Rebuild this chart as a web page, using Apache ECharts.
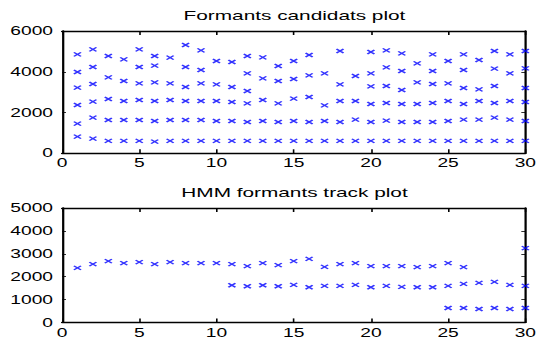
<!DOCTYPE html>
<html>
<head>
<meta charset="utf-8">
<script src="https://cdn.jsdelivr.net/npm/echarts@6/dist/echarts.min.js"></script>
<style>
	html, body { margin: 0; padding: 0; background: #fff; }
	/* the reference figure is stretched horizontally, so the chart is drawn narrow and widened */
	#chart {
		width: 337.5px;
		height: 342px;
		transform: scaleX(1.6);
		transform-origin: 0 0;
	}
</style>
</head>
<body>
<div id="chart"></div>
<script>
// frame index for both plots
const frames = Array.from({ length: 30 }, (_, i) => i + 1)

// formant candidates (Hz) for each frame, top plot
const candidates = [
	[4856, 3989, 3221, 2371, 1455, 818],
	[5101, 4235, 3401, 2534, 1749, 719],
	[4774, 3728, 2665, 1635, 605],
	[4611, 3548, 2567, 1635, 605],
	[5101, 4235, 3434, 2616, 1635, 605],
	[4774, 4300, 3483, 2567, 1586, 572],
	[4692, 3434, 2616, 1635, 605],
	[5314, 4235, 3254, 2567, 1635, 605],
	[5052, 4088, 3434, 2567, 1635, 605],
	[4529, 3384, 2567, 1586, 605],
	[4480, 3254, 2518, 1586, 605],
	[4774, 3924, 3057, 2452, 1537, 605],
	[4709, 3679, 2616, 1586, 605],
	[4284, 3548, 2452, 1537, 605],
	[4529, 3646, 2681, 1586, 605],
	[4823, 3826, 2763, 1537, 605],
	[3924, 2354, 1586, 605],
	[5019, 3384, 2567, 1537, 605],
	[3793, 2567, 1651, 605],
	[4970, 3924, 3286, 2420, 1537, 605],
	[5052, 4218, 3303, 2469, 1602, 605],
	[4905, 4038, 3106, 2420, 1537, 605],
	[4415, 3483, 2420, 1537, 605],
	[4856, 4038, 3401, 2469, 1537, 605],
	[4529, 3434, 2567, 1586, 605],
	[4856, 4088, 3205, 2420, 1651, 605],
	[4578, 3139, 2567, 1651, 605],
	[5019, 4153, 3303, 2469, 1749, 605],
	[4856, 3924, 2567, 1651, 605],
	[5019, 4170, 3205, 2518, 1586, 605]
]

// HMM tracks (Hz), bottom plot; null = no point in that frame
const trackHigh = [2383, 2544, 2675, 2588, 2632, 2544, 2632, 2588, 2588, 2588,
	2544, 2456, 2588, 2500, 2675, 2778, 2427, 2544, 2588, 2456,
	2456, 2456, 2412, 2456, 2588, 2412, null, null, null, 3246]
const trackMid = [null, null, null, null, null, null, null, null, null, null,
	1623, 1579, 1623, 1579, 1637, 1535, 1594, 1594, 1637, 1535,
	1594, 1550, 1535, 1535, 1594, 1681, 1725, 1769, 1637, 1594]
const trackLow = [null, null, null, null, null, null, null, null, null, null,
	null, null, null, null, null, null, null, null, null, null,
	null, null, null, null, 629, 629, 585, 629, 585, 629]

// axis ranges and ticks
const xTicks = [0, 5, 10, 15, 20, 25, 30]
const topYTicks = [0, 2000, 4000, 6000]
const bottomYTicks = [0, 1000, 2000, 3000, 4000, 5000]

const titles = ['Formants candidats plot', 'HMM formants track plot']

const SX = 1.6
const FONT = "'Liberation Sans', Arial, Helvetica, sans-serif"
const BLUE = '#0000ff'

const candidatePoints = []
candidates.forEach((vals, i) => {
	vals.forEach(v => candidatePoints.push([frames[i], v]))
})

const toPoints = arr => arr
	.map((v, i) => (v === null ? null : [frames[i], v]))
	.filter(p => p !== null)

const chart = echarts.init(document.getElementById('chart'), null, { renderer: 'svg' })

const lineStyle = { color: '#000', width: 1.4 }

const makeX = (gridIndex, position) => ({
	type: 'value',
	gridIndex: gridIndex,
	position: position,
	min: xTicks[0],
	max: xTicks[xTicks.length - 1],
	interval: xTicks[1] - xTicks[0],
	axisLine: { show: true, onZero: false, lineStyle: lineStyle },
	axisTick: { show: true, inside: true, length: 4, lineStyle: { color: '#000', width: 1 } },
	axisLabel: {
		show: position === 'bottom',
		color: '#000',
		fontSize: 12,
		fontFamily: FONT,
		margin: 4,
		formatter: v => String(v)
	},
	splitLine: { show: false }
})

const makeY = (gridIndex, position, ticks) => ({
	type: 'value',
	gridIndex: gridIndex,
	position: position,
	min: ticks[0],
	max: ticks[ticks.length - 1],
	interval: ticks[1] - ticks[0],
	axisLine: { show: true, onZero: false, lineStyle: lineStyle },
	axisTick: { show: true, inside: true, length: 4 / SX, lineStyle: { color: '#000', width: 1 / SX } },
	axisLabel: {
		show: position === 'left',
		color: '#000',
		fontSize: 12,
		fontFamily: FONT,
		margin: 9 / SX,
		formatter: v => String(v)
	},
	splitLine: { show: false }
})

const markStyle = {
	type: 'scatter',
	symbol: 'path://M0,0L10,10M10,0L0,10',
	symbolSize: [4.4, 4],
	clip: false,
	itemStyle: { color: 'transparent', borderColor: BLUE, borderWidth: 1.2 },
	emphasis: { disabled: true }
}

const gridLeft = 62 / SX
const gridWidth = 465 / SX
const titleX = gridLeft + gridWidth / 2

const option = {
	animation: false,
	backgroundColor: '#fff',
	title: [
		{
			text: titles[0], left: titleX, top: 9, padding: 0, textAlign: 'center',
			textStyle: { fontSize: 13, fontWeight: 'normal', color: '#000', fontFamily: FONT }
		},
		{
			text: titles[1], left: titleX, top: 186, padding: 0, textAlign: 'center',
			textStyle: { fontSize: 13, fontWeight: 'normal', color: '#000', fontFamily: FONT }
		}
	],
	grid: [
		{ left: gridLeft, width: gridWidth, top: 31, height: 122.3 },
		{ left: gridLeft, width: gridWidth, top: 208, height: 114.4 }
	],
	xAxis: [
		makeX(0, 'bottom'),
		makeX(0, 'top'),
		makeX(1, 'bottom'),
		makeX(1, 'top')
	],
	yAxis: [
		makeY(0, 'left', topYTicks),
		makeY(0, 'right', topYTicks),
		makeY(1, 'left', bottomYTicks),
		makeY(1, 'right', bottomYTicks)
	],
	series: [
		Object.assign({}, markStyle, { name: 'candidates', xAxisIndex: 0, yAxisIndex: 0, data: candidatePoints }),
		Object.assign({}, markStyle, { name: 'track high', xAxisIndex: 2, yAxisIndex: 2, data: toPoints(trackHigh) }),
		Object.assign({}, markStyle, { name: 'track mid', xAxisIndex: 2, yAxisIndex: 2, data: toPoints(trackMid) }),
		Object.assign({}, markStyle, { name: 'track low', xAxisIndex: 2, yAxisIndex: 2, data: toPoints(trackLow) })
	]
}

chart.setOption(option)
</script>
</body>
</html>
